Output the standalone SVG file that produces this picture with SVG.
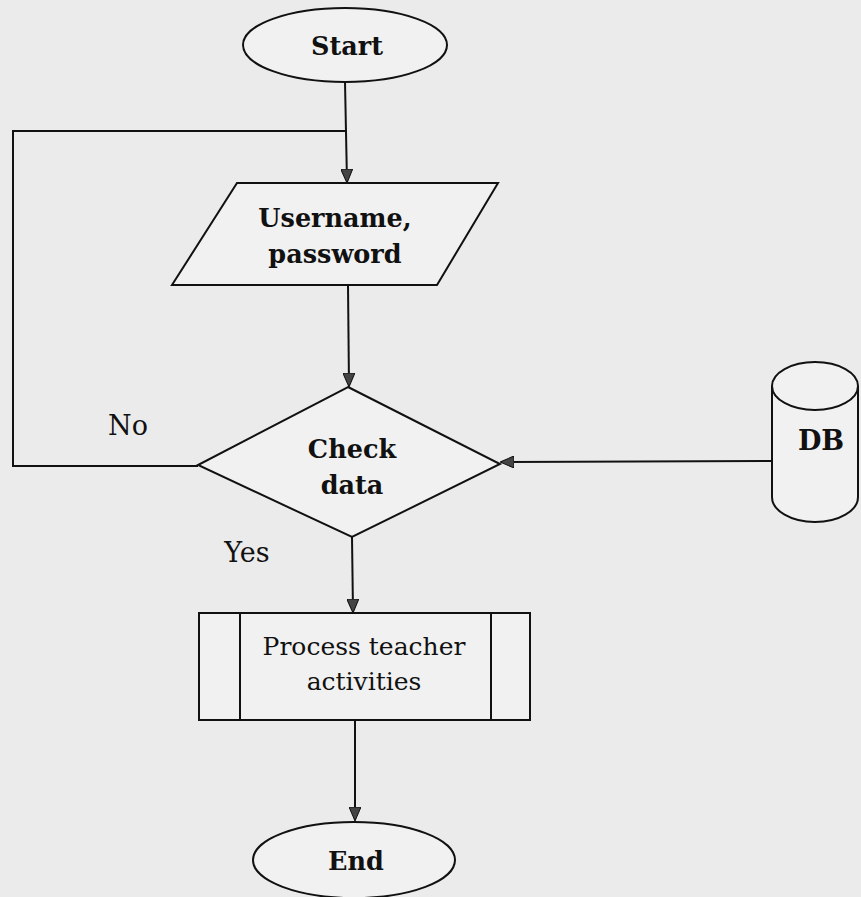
<svg xmlns="http://www.w3.org/2000/svg" width="861" height="897" viewBox="0 0 861 897">
<style>
.shape{fill:#f1f1f1;stroke:#111;stroke-width:2}
.line{fill:none;stroke:#111;stroke-width:2}
.b{font-family:"DejaVu Serif","Liberation Serif",serif;font-weight:bold;font-size:25.5px;fill:#111;text-anchor:middle}
.r{font-family:"DejaVu Serif","Liberation Serif",serif;font-size:25px;fill:#111;text-anchor:middle}
.lbl{font-family:"DejaVu Serif","Liberation Serif",serif;font-size:27px;fill:#111;text-anchor:middle}
</style>
<defs>
<marker id="arr" markerWidth="14" markerHeight="12" refX="13" refY="6" orient="auto" markerUnits="userSpaceOnUse">
<path d="M0,0 L14,6 L0,12 Z" fill="#444" stroke="#111" stroke-width="1"/>
</marker>
</defs>
<rect width="861" height="897" fill="#ebebeb"/>
<g id="connectors">
<line class="line" x1="345" y1="82" x2="347" y2="182" marker-end="url(#arr)"/>
<polyline class="line" points="198,466 13,466 13,131 346,131"/>
<line class="line" x1="348" y1="285" x2="349" y2="386" marker-end="url(#arr)"/>
<line class="line" x1="772" y1="461" x2="501" y2="462" marker-end="url(#arr)"/>
<line class="line" x1="352" y1="537" x2="353" y2="612" marker-end="url(#arr)"/>
<line class="line" x1="355" y1="720" x2="355" y2="820" marker-end="url(#arr)"/>
</g>
<g id="start">
<ellipse class="shape" cx="345" cy="45" rx="102" ry="37"/>
<text class="b" x="347" y="55">Start</text>
</g>
<g id="input">
<polygon class="shape" points="237,183 498,183 437,285 172,285"/>
<text class="b" x="335" y="227">Username,</text>
<text class="b" x="335" y="263">password</text>
</g>
<g id="check">
<polygon class="shape" points="348,387 500,464 352,537 198,465"/>
<text class="b" x="352" y="458">Check</text>
<text class="b" x="352" y="494">data</text>
</g>
<text class="lbl" x="128" y="435">No</text>
<text class="lbl" x="247" y="562">Yes</text>
<g id="db">
<path class="shape" d="M772,386 L772,497 A43,25 0 0 0 858,497 L858,386"/>
<ellipse class="shape" cx="815" cy="386" rx="43" ry="24"/>
<text class="b" x="821" y="450" style="font-size:27px">DB</text>
</g>
<g id="process">
<rect class="shape" x="199" y="613" width="331" height="107"/>
<line class="line" x1="240" y1="613" x2="240" y2="720"/>
<line class="line" x1="491" y1="613" x2="491" y2="720"/>
<text class="r" x="364" y="655">Process teacher</text>
<text class="r" x="364" y="690">activities</text>
</g>
<g id="end">
<ellipse class="shape" cx="354" cy="860" rx="101" ry="38"/>
<text class="b" x="356" y="870">End</text>
</g>
</svg>
